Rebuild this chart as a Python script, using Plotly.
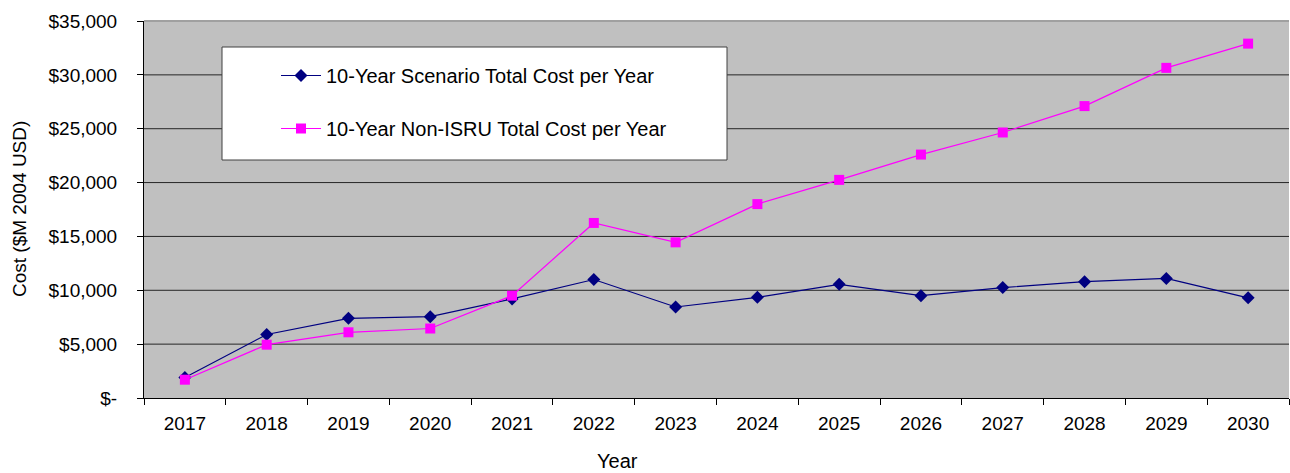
import plotly.graph_objects as go

years = [str(y) for y in range(2017, 2031)]
scenario_cost = [1900, 5900, 7400, 7550, 9200, 11000, 8450, 9350, 10550, 9500, 10250, 10800, 11100, 9300]
non_isru_cost = [1700, 4950, 6100, 6450, 9500, 16250, 14450, 18000, 20250, 22600, 24650, 27100, 30650, 32900]
y_ticks = [0, 5000, 10000, 15000, 20000, 25000, 30000, 35000]
y_tick_text = ["$-", "$5,000", "$10,000", "$15,000", "$20,000", "$25,000", "$30,000", "$35,000"]

W, H = 1290, 473
L, R, T, B = 144, 1, 21, 75
pw = W - L - R
ph = H - T - B

FAMILY = "Liberation Sans, Arial, sans-serif"
font = dict(family=FAMILY, size=19, color="#000000")

fig = go.Figure()
fig.add_trace(go.Scatter(
    x=years, y=scenario_cost, mode="lines+markers",
    name="10-Year Scenario Total Cost per Year", legendgroup="a",
    line=dict(color="#000080", width=1.2),
    marker=dict(symbol="diamond", size=10, color="#000080"),
))
fig.add_trace(go.Scatter(
    x=years, y=non_isru_cost, mode="lines+markers",
    name="10-Year Non-ISRU Total Cost per Year", legendgroup="b",
    line=dict(color="#FF00FF", width=1.2),
    marker=dict(symbol="square", size=10, color="#FF00FF"),
))

def px_x(p):
    return (p - L) / pw

def px_y(p):
    return (H - B - p) / ph

# horizontal gridlines, drawn as shapes so the legend frame can sit on top
grid_shapes = [
    dict(type="line", xref="paper", yref="y", x0=0, x1=1, y0=v, y1=v,
         line=dict(color="#262626", width=1), layer="below")
    for v in y_ticks[1:-1]
]

fig.update_layout(
    width=W, height=H,
    margin=dict(l=L, r=R, t=T, b=B),
    paper_bgcolor="#FFFFFF",
    plot_bgcolor="#C0C0C0",
    font=font,
    showlegend=True,
    legend=dict(
        x=px_x(276), y=px_y(56), xanchor="left", yanchor="top",
        bgcolor="rgba(0,0,0,0)", borderwidth=0,
        font=dict(family=FAMILY, size=20),
        tracegroupgap=24, itemwidth=40,
    ),
    xaxis=dict(
        type="category", range=[-0.5, 13.5],
        showline=True, linecolor="#000000", linewidth=1,
        ticks="outside", tickson="boundaries", ticklen=6, tickcolor="#000000",
        ticklabelstandoff=8,
        showgrid=False, zeroline=False,
    ),
    yaxis=dict(
        range=[0, 35000],
        tickvals=y_ticks, ticktext=y_tick_text,
        showline=True, linecolor="#000000", linewidth=1,
        ticks="outside", ticklen=6, tickcolor="#000000",
        ticklabelstandoff=16,
        showgrid=False, zeroline=False,
    ),
    shapes=grid_shapes + [
        # legend frame
        dict(type="rect", xref="paper", yref="paper",
             x0=px_x(222), x1=px_x(727), y0=px_y(160), y1=px_y(47),
             fillcolor="#FFFFFF", line=dict(color="#404040", width=1),
             layer="below"),
        # top border of the plot area
        dict(type="line", xref="paper", yref="paper",
             x0=0, x1=1, y0=1, y1=1, line=dict(color="#A0A0A0", width=2)),
    ],
    annotations=[
        dict(text="Cost ($M 2004 USD)", xref="paper", yref="paper",
             x=px_x(19), y=px_y(209), textangle=-90, showarrow=False,
             xanchor="center", yanchor="middle",
             font=dict(family=FAMILY, size=19)),
        dict(text="Year", xref="paper", yref="paper",
             x=px_x(617), y=px_y(461), showarrow=False,
             xanchor="center", yanchor="middle",
             font=dict(family=FAMILY, size=20)),
    ],
)

fig.write_html("out.html")
